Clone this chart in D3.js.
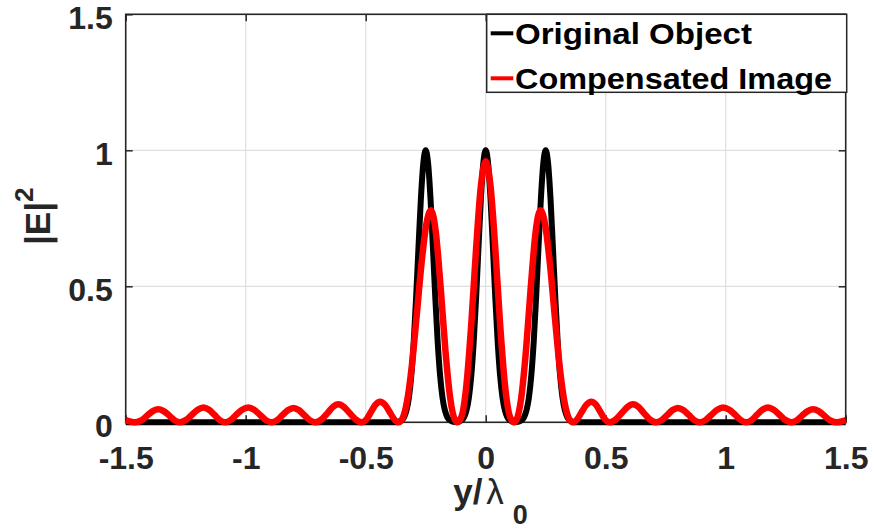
<!DOCTYPE html>
<html>
<head>
<meta charset="utf-8">
<script src="https://cdn.jsdelivr.net/npm/d3@7"></script>
<style>
  body { margin: 0; background: #fff; }
  svg { display: block; }
  text { font-family: "Liberation Sans", Arial, Helvetica, sans-serif; font-weight: bold; }
</style>
</head>
<body>
<div id="chart"></div>
<script>
const width = 875
const height = 531
const plot = { left: 125.7, right: 845.7, top: 14.3, bottom: 422.3 }

// tick values / labels
const xTicks = [-1.5, -1, -0.5, 0, 0.5, 1, 1.5]
const xTickLabels = ['-1.5', '-1', '-0.5', '0', '0.5', '1', '1.5']
const yTicks = [0, 0.5, 1, 1.5]
const yTickLabels = ['0', '0.5', '1', '1.5']

const seriesNames = ['Original Object', 'Compensated Image']
const seriesColors = ['#000000', '#ff0000']

// Original Object (black)
const origX = [-1.5, -0.37,
  -0.36, -0.35, -0.34, -0.33, -0.32, -0.31, -0.30, -0.29, -0.28, -0.27, -0.26,
  -0.25, -0.24, -0.23, -0.22, -0.21, -0.20, -0.19, -0.18, -0.17, -0.16, -0.15,
  -0.14, -0.13, -0.12, -0.11, -0.10, -0.09, -0.08, -0.07, -0.06, -0.05, -0.04,
  -0.03, -0.02, -0.01, 0, 0.01, 0.02, 0.03, 0.04, 0.05, 0.06, 0.07, 0.08, 0.09,
  0.10, 0.11, 0.12, 0.13, 0.14, 0.15, 0.16, 0.17, 0.18, 0.19, 0.20, 0.21, 0.22,
  0.23, 0.24, 0.25, 0.26, 0.27, 0.28, 0.29, 0.30, 0.31, 0.32, 0.33, 0.34, 0.35,
  0.36, 0.37, 1.5]
const origY = [0, 0,
  0.003, 0.008, 0.019, 0.044, 0.091, 0.172, 0.295, 0.458, 0.644, 0.823, 0.952,
  1.000, 0.952, 0.823, 0.644, 0.458, 0.295, 0.172, 0.091, 0.044, 0.019, 0.008,
  0.003, 0.001, 0.001, 0.003, 0.008, 0.019, 0.044, 0.091, 0.172, 0.295, 0.458,
  0.644, 0.823, 0.952, 1.000, 0.952, 0.823, 0.644, 0.458, 0.295, 0.172, 0.091, 0.044, 0.019,
  0.008, 0.003, 0.001, 0.001, 0.003, 0.008, 0.019, 0.044, 0.091, 0.172, 0.295, 0.458, 0.644,
  0.823, 0.952, 1.000, 0.952, 0.823, 0.644, 0.458, 0.295, 0.172, 0.091, 0.044, 0.019, 0.008,
  0.003, 0, 0]

// Compensated Image (red)
const compX = [-1.50, -1.46, -1.435, -1.41, -1.387, -1.364, -1.342, -1.32, -1.297, -1.274,
  -1.25, -1.225, -1.2, -1.176, -1.153, -1.13, -1.108, -1.086,
  -1.063, -1.04, -1.015, -0.989, -0.965, -0.94, -0.916, -0.892,
  -0.869, -0.846, -0.823, -0.801, -0.779, -0.757, -0.733, -0.71,
  -0.685, -0.66, -0.637, -0.614, -0.59, -0.566, -0.541, -0.517,
  -0.497, -0.478, -0.459, -0.44, -0.42, -0.40, -0.381, -0.363,
  -0.348, -0.328, -0.308, -0.288, -0.268, -0.248,
  -0.228, -0.208, -0.188, -0.168, -0.148, -0.128, -0.117, -0.10, -0.08, -0.06, -0.04,
  -0.02, 0, 0.02, 0.04, 0.06, 0.08, 0.10, 0.117, 0.128, 0.148, 0.168, 0.188, 0.208,
  0.228, 0.248, 0.268, 0.288, 0.308, 0.328, 0.348,
  0.363, 0.381, 0.40, 0.42, 0.44, 0.459, 0.478, 0.497, 0.517,
  0.541, 0.566, 0.59, 0.614, 0.637, 0.66, 0.685, 0.71,
  0.733, 0.757, 0.779, 0.801, 0.823, 0.846, 0.869, 0.892,
  0.916, 0.94, 0.965, 0.989, 1.015, 1.04, 1.063, 1.086,
  1.108, 1.13, 1.153, 1.176, 1.2, 1.225, 1.25, 1.274,
  1.297, 1.32, 1.342, 1.364, 1.387, 1.41, 1.435, 1.46, 1.50]
const compY = [0.008, 0, 0.007, 0.025, 0.041, 0.048, 0.041, 0.026, 0.008, 0,
  0.008, 0.027, 0.046, 0.054, 0.046, 0.027, 0.008, 0,
  0.008, 0.027, 0.046, 0.054, 0.046, 0.027, 0.008, 0,
  0.008, 0.027, 0.045, 0.053, 0.045, 0.027, 0.008, 0,
  0.010, 0.033, 0.056, 0.066, 0.056, 0.033, 0.010, 0,
  0.011, 0.038, 0.065, 0.076, 0.065, 0.038, 0.011, 0,
  0.012, 0.076, 0.206, 0.388, 0.579, 0.725,
  0.780, 0.700, 0.499, 0.266, 0.090, 0.009, 0, 0.023, 0.140, 0.362, 0.639,
  0.869, 0.960, 0.869, 0.639, 0.362, 0.140, 0.023, 0, 0.009, 0.090, 0.266, 0.499, 0.700,
  0.780, 0.725, 0.579, 0.388, 0.206, 0.076, 0.012,
  0, 0.011, 0.038, 0.065, 0.076, 0.065, 0.038, 0.011, 0,
  0.010, 0.033, 0.056, 0.066, 0.056, 0.033, 0.010, 0,
  0.008, 0.027, 0.045, 0.053, 0.045, 0.027, 0.008, 0,
  0.008, 0.027, 0.046, 0.054, 0.046, 0.027, 0.008, 0,
  0.008, 0.027, 0.046, 0.054, 0.046, 0.027, 0.008, 0,
  0.008, 0.026, 0.041, 0.048, 0.041, 0.025, 0.007, 0, 0.008]

const axisColor = '#262626'
const gridColor = '#dfdfdf'

const svg = d3.select('#chart').append('svg')
  .attr('width', width).attr('height', height)

const x = d3.scaleLinear().domain([-1.5, 1.5]).range([plot.left, plot.right])
const y = d3.scaleLinear().domain([0, 1.5]).range([plot.bottom, plot.top])

// grid
svg.append('g').selectAll('line.gx')
  .data(xTicks).enter().append('line')
  .attr('x1', d => x(d)).attr('x2', d => x(d))
  .attr('y1', plot.top).attr('y2', plot.bottom)
  .attr('stroke', gridColor).attr('stroke-width', 1.2)
svg.append('g').selectAll('line.gy')
  .data(yTicks).enter().append('line')
  .attr('y1', d => y(d)).attr('y2', d => y(d))
  .attr('x1', plot.left).attr('x2', plot.right)
  .attr('stroke', gridColor).attr('stroke-width', 1.2)

// axes (ticks inside, MATLAB style)
const tickLen = 7
const styleAxis = g => {
  g.select('.domain').remove()
  g.selectAll('line').attr('stroke', axisColor).attr('stroke-width', 1.5)
  g.selectAll('text').attr('fill', axisColor).attr('font-size', 32)
    .attr('font-family', null)
}

svg.append('g').attr('transform', `translate(0,${plot.bottom})`)
  .call(d3.axisBottom(x).tickValues(xTicks).tickSizeInner(-tickLen).tickSizeOuter(0)
    .tickFormat((d, i) => xTickLabels[i]))
  .call(styleAxis)
  .call(g => g.selectAll('text').attr('y', 47).attr('dy', null))

svg.append('g').attr('transform', `translate(0,${plot.top})`)
  .call(d3.axisTop(x).tickValues(xTicks).tickSizeInner(-tickLen).tickSizeOuter(0)
    .tickFormat(''))
  .call(styleAxis)

svg.append('g').attr('transform', `translate(${plot.left},0)`)
  .call(d3.axisLeft(y).tickValues(yTicks).tickSizeInner(-tickLen).tickSizeOuter(0)
    .tickFormat((d, i) => yTickLabels[i]))
  .call(styleAxis)
  .call(g => g.selectAll('text').attr('x', -13).attr('dy', null).attr('y', 14))

svg.append('g').attr('transform', `translate(${plot.right},0)`)
  .call(d3.axisRight(y).tickValues(yTicks).tickSizeInner(-tickLen).tickSizeOuter(0)
    .tickFormat(''))
  .call(styleAxis)

// box
svg.append('rect')
  .attr('x', plot.left).attr('y', plot.top)
  .attr('width', plot.right - plot.left).attr('height', plot.bottom - plot.top)
  .attr('fill', 'none').attr('stroke', axisColor).attr('stroke-width', 1.6)

// curves
const line = d3.line()
  .x(d => x(d[0])).y(d => y(d[1]))
  .curve(d3.curveMonotoneX)

const series = [
  { pts: d3.zip(origX, origY), color: seriesColors[0], w: 6 },
  { pts: d3.zip(compX, compY), color: seriesColors[1], w: 6.5 }
]
svg.append('g').selectAll('path')
  .data(series).enter().append('path')
  .attr('d', s => line(s.pts))
  .attr('fill', 'none')
  .attr('stroke', s => s.color)
  .attr('stroke-width', s => s.w)
  .attr('stroke-linejoin', 'round')

// axis labels
const cx = (plot.left + plot.right) / 2
const xl = svg.append('text').attr('x', cx - 32.5).attr('y', 504)
  .attr('fill', axisColor).attr('font-size', 35)
xl.append('tspan').text('y/')
xl.append('tspan').attr('x', cx + 0.5).attr('font-weight', 'normal').text('λ')
xl.append('tspan').attr('x', cx + 27).attr('y', 524).attr('font-size', 27).text('0')

const yl = svg.append('text')
  .attr('transform', `translate(50,${(plot.top + plot.bottom) / 2 - 2}) rotate(-90)`)
  .attr('text-anchor', 'middle').attr('fill', axisColor).attr('font-size', 35)
yl.append('tspan').text('|E|')
yl.append('tspan').attr('font-size', 26).attr('dy', -17).text('2')

// legend
const legend = svg.append('g')
legend.append('rect')
  .attr('x', 486.7).attr('y', plot.top).attr('width', plot.right + 1 - 486.7).attr('height', 78)
  .attr('fill', '#fff').attr('stroke', axisColor).attr('stroke-width', 1.5)
const legendW = [237, 317]
const items = legend.selectAll('g.item')
  .data(seriesNames).enter().append('g')
  .attr('transform', (d, i) => `translate(0,${33.3 + i * 45})`)
items.append('line')
  .attr('x1', 490.7).attr('x2', 513.3)
  .attr('stroke', (d, i) => seriesColors[i]).attr('stroke-width', 4)
items.append('text')
  .attr('x', 515).attr('y', 11)
  .attr('font-size', 30).attr('fill', '#000')
  .attr('textLength', (d, i) => legendW[i]).attr('lengthAdjust', 'spacingAndGlyphs')
  .text(d => d)
</script>
</body>
</html>
